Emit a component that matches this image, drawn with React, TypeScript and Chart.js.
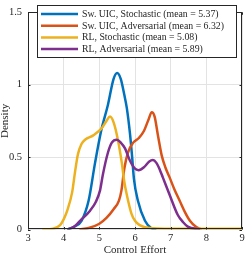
import React, { useEffect, useRef } from "react";
import Chart from "chart.js/auto";

const seriesLabels = [
  "Sw. UIC, Stochastic (mean = 5.37)",
  "Sw. UIC, Adversarial (mean = 6.32)",
  "RL, Stochastic (mean = 5.08)",
  "RL, Adversarial (mean = 5.89)",
];
const seriesColors = ["#0072BD", "#D95319", "#EDB120", "#7E2F8E"];

const blueX = [4.1, 4.3, 4.5, 4.7, 4.88, 5.05, 5.24, 5.4, 5.5, 5.6, 5.7, 5.77, 5.86, 5.92, 5.97, 6.08, 6.28, 6.45, 6.6];
const blueY = [0, 0.02, 0.06, 0.2, 0.46, 0.68, 0.86, 1.04, 1.08, 1.04, 0.93, 0.84, 0.66, 0.5, 0.35, 0.2, 0.06, 0.01, 0];

const orangeX = [4.44, 4.7, 5.0, 5.2, 5.4, 5.55, 5.62, 5.7, 5.8, 5.95, 6.1, 6.25, 6.38, 6.47, 6.55, 6.65, 6.75, 6.85, 6.97, 7.1, 7.25, 7.4, 7.54, 7.7, 7.87];
const orangeY = [0, 0.01, 0.04, 0.08, 0.14, 0.2, 0.27, 0.42, 0.53, 0.6, 0.63, 0.68, 0.76, 0.81, 0.78, 0.64, 0.51, 0.43, 0.36, 0.28, 0.2, 0.12, 0.06, 0.02, 0];

const yellowX = [3.4, 3.7, 3.9, 4.0, 4.1, 4.24, 4.32, 4.4, 4.5, 4.6, 4.83, 5.07, 5.2, 5.3, 5.4, 5.52, 5.63, 5.7, 5.77, 5.9, 6.0, 6.13, 6.4, 7.0, 8.0, 9.0];
const yellowY = [0, 0.005, 0.03, 0.07, 0.13, 0.26, 0.4, 0.52, 0.59, 0.62, 0.65, 0.7, 0.75, 0.78, 0.74, 0.62, 0.46, 0.33, 0.24, 0.11, 0.06, 0.03, 0.01, 0.005, 0.005, 0.005];

const purpleX = [4.1, 4.3, 4.46, 4.74, 4.9, 5.02, 5.1, 5.24, 5.35, 5.49, 5.6, 5.72, 5.85, 6.0, 6.1, 6.25, 6.4, 6.5, 6.6, 6.7, 6.78, 6.97, 7.2, 7.35, 7.48, 7.82];
const purpleY = [0, 0.02, 0.06, 0.13, 0.19, 0.27, 0.38, 0.53, 0.6, 0.62, 0.6, 0.56, 0.48, 0.42, 0.41, 0.43, 0.47, 0.48, 0.46, 0.41, 0.36, 0.24, 0.1, 0.05, 0.02, 0];

const xTicks = [3, 4, 5, 6, 7, 8, 9];
const yTicks = [0, 0.5, 1, 1.5];
const yTickLabels = ["0", "0.5", "1", "1.5"];

const seriesXs = [blueX, orangeX, yellowX, purpleX];
const seriesYs = [blueY, orangeY, yellowY, purpleY];

const SERIF = "'Liberation Serif', 'DejaVu Serif', serif";

const frame = {
  id: "frame",
  afterDatasetsDraw(chart: any) {
    const { ctx, chartArea: a, scales } = chart;
    ctx.save();
    ctx.strokeStyle = "#262626";
    ctx.lineWidth = 1;
    ctx.strokeRect(Math.round(a.left) + 0.5, Math.round(a.top) + 0.5, Math.round(a.right - a.left) - 1, Math.round(a.bottom - a.top) - 1);
    const tl = 2.5;
    ctx.beginPath();
    for (const v of xTicks) {
      const px = Math.round(scales.x.getPixelForValue(v)) + 0.5;
      ctx.moveTo(px, a.bottom); ctx.lineTo(px, a.bottom - tl);
      ctx.moveTo(px, a.top); ctx.lineTo(px, a.top + tl);
    }
    for (const v of yTicks) {
      const py = Math.round(scales.y.getPixelForValue(v)) + 0.5;
      ctx.moveTo(a.left, py); ctx.lineTo(a.left + tl, py);
      ctx.moveTo(a.right, py); ctx.lineTo(a.right - tl, py);
    }
    ctx.stroke();

    // legend
    const bx = 37, by = 5, bw = 199, bh = 52;
    ctx.fillStyle = "#ffffff";
    ctx.fillRect(bx, by, bw, bh);
    ctx.strokeStyle = "#262626";
    ctx.strokeRect(bx + 0.5, by + 0.5, bw, bh);
    ctx.font = "9.8px " + SERIF;
    ctx.textBaseline = "middle";
    ctx.textAlign = "left";
    chart.data.datasets.forEach((ds: any, i: number) => {
      const y = 14 + i * 11.7;
      ctx.strokeStyle = ds.borderColor;
      ctx.lineWidth = 2.5;
      ctx.beginPath();
      ctx.moveTo(41, y); ctx.lineTo(78, y);
      ctx.stroke();
      ctx.fillStyle = "#262626";
      ctx.fillText(ds.label, 82, y + 0.5);
    });
    ctx.restore();
  },
};

export default function App() {
  const ref = useRef<HTMLCanvasElement | null>(null);
  useEffect(() => {
    document.body.style.margin = "0";
    const datasets = seriesLabels.map((label, i) => ({
      label,
      data: seriesXs[i].map((x, j) => ({ x, y: seriesYs[i][j] })),
      borderColor: seriesColors[i],
      backgroundColor: seriesColors[i],
      borderWidth: 2.5,
      pointRadius: 0,
      fill: false,
      tension: 0.4,
      cubicInterpolationMode: "monotone" as const,
      order: 4 - i,
    }));
    const chart = new Chart(ref.current!, {
      type: "line",
      data: { datasets },
      plugins: [frame],
      options: {
        responsive: false,
        animation: false,
        layout: { padding: { top: 4, right: 5, left: 0, bottom: 0 } },
        plugins: { legend: { display: false }, tooltip: { enabled: false } },
        scales: {
          x: {
            type: "linear",
            min: 3,
            max: 9,
            afterBuildTicks: (s: any) => { s.ticks = xTicks.map((v) => ({ value: v })); },
            afterFit: (s: any) => { s.height = 26.5; },
            ticks: { color: "#262626", font: { family: SERIF, size: 10.5 }, padding: 2, maxRotation: 0, callback: (v: any) => String(v) },
            grid: { color: "#e3e3e3", drawTicks: false },
            border: { display: false },
            title: { display: true, text: "Control Effort", color: "#262626", font: { family: SERIF, size: 11, lineHeight: 1.1 }, padding: 0 },
          },
          y: {
            min: 0,
            max: 1.5,
            afterBuildTicks: (s: any) => { s.ticks = yTicks.map((v) => ({ value: v })); },
            afterFit: (s: any) => { s.width = 28; },
            ticks: {
              color: "#262626",
              font: { family: SERIF, size: 10.5 },
              padding: 6,
              callback: (v: any) => { const k = yTicks.indexOf(Number(v)); return k >= 0 ? yTickLabels[k] : String(v); },
            },
            grid: { color: "#e3e3e3", drawTicks: false },
            border: { display: false },
            title: { display: true, text: "Density", color: "#262626", font: { family: SERIF, size: 11, lineHeight: 1.0 }, padding: 0 },
          },
        },
      },
    });
    return () => chart.destroy();
  }, []);
  return (
    <div style={{ width: 247, height: 256, position: "relative" }}>
      <canvas ref={ref} width={247} height={256} style={{ display: "block" }} />
    </div>
  );
}
